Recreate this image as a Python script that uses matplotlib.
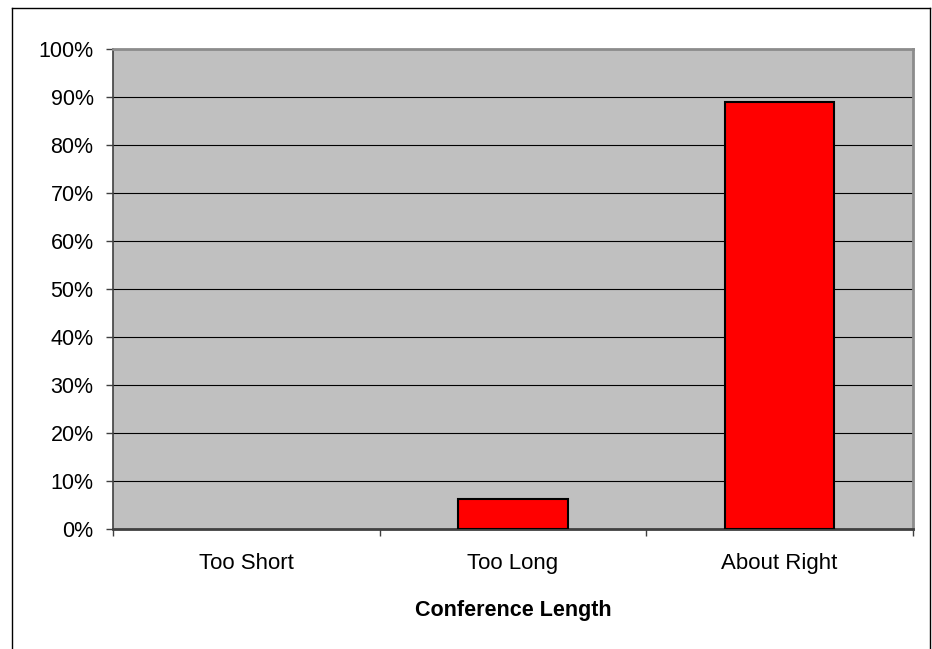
import numpy as np
import matplotlib.pyplot as plt
from matplotlib.lines import Line2D
from matplotlib.ticker import PercentFormatter

# Данные
categories = ['Too Short', 'Too Long', 'About Right']
values = [0, 6.2, 89]

plt.rcParams['font.family'] = ['Liberation Sans', 'DejaVu Sans']

fig = plt.figure(figsize=(9.32, 6.49), dpi=100)
ax = fig.add_axes([113 / 932, 1 - 529 / 649, 800 / 932, 480 / 649])
ax.set_facecolor('#c0c0c0')

x = np.arange(len(categories))
# у нулевого столбца контур не рисуем
widths = [1.5 if v > 0 else 0 for v in values]
ax.bar(x, values, width=0.41, color='#ff0000', edgecolor='black', linewidth=widths, zorder=3)

ax.set_xlim(-0.5, 2.5)
ax.set_ylim(0, 100)
ax.set_yticks(np.arange(0, 101, 10))
ax.yaxis.set_major_formatter(PercentFormatter(decimals=0))
ax.grid(axis='y', color='black', linewidth=0.8, zorder=1)
ax.set_axisbelow(True)

ax.set_xticks(x)
ax.set_xticklabels(categories)
ax.set_xticks(np.arange(-0.5, 2.6, 1), minor=True)
ax.tick_params(axis='x', which='major', length=0, pad=17, labelsize=16)
ax.tick_params(axis='x', which='minor', length=5, width=1, color='#404040', direction='out')
ax.tick_params(axis='y', length=5, width=1, color='#404040', pad=9, labelsize=15.5)

ax.set_xlabel('Conference Length', fontsize=15.5, fontweight='bold', labelpad=19)

for side in ['left', 'bottom']:
    ax.spines[side].set_color('#404040')
ax.spines['left'].set_linewidth(1.2)
ax.spines['bottom'].set_linewidth(2)
for side in ['top', 'right']:
    ax.spines[side].set_color('#8c8c8c')
    ax.spines[side].set_linewidth(2)

# Рамка вокруг диаграммы
fig.add_artist(Line2D([12 / 932, 12 / 932], [0, 1 - 8 / 649], color='black', linewidth=1))
fig.add_artist(Line2D([12 / 932, 930 / 932], [1 - 8 / 649, 1 - 8 / 649], color='black', linewidth=1))
fig.add_artist(Line2D([930 / 932, 930 / 932], [0, 1 - 8 / 649], color='black', linewidth=1))

fig.savefig('out.png', dpi=100)
